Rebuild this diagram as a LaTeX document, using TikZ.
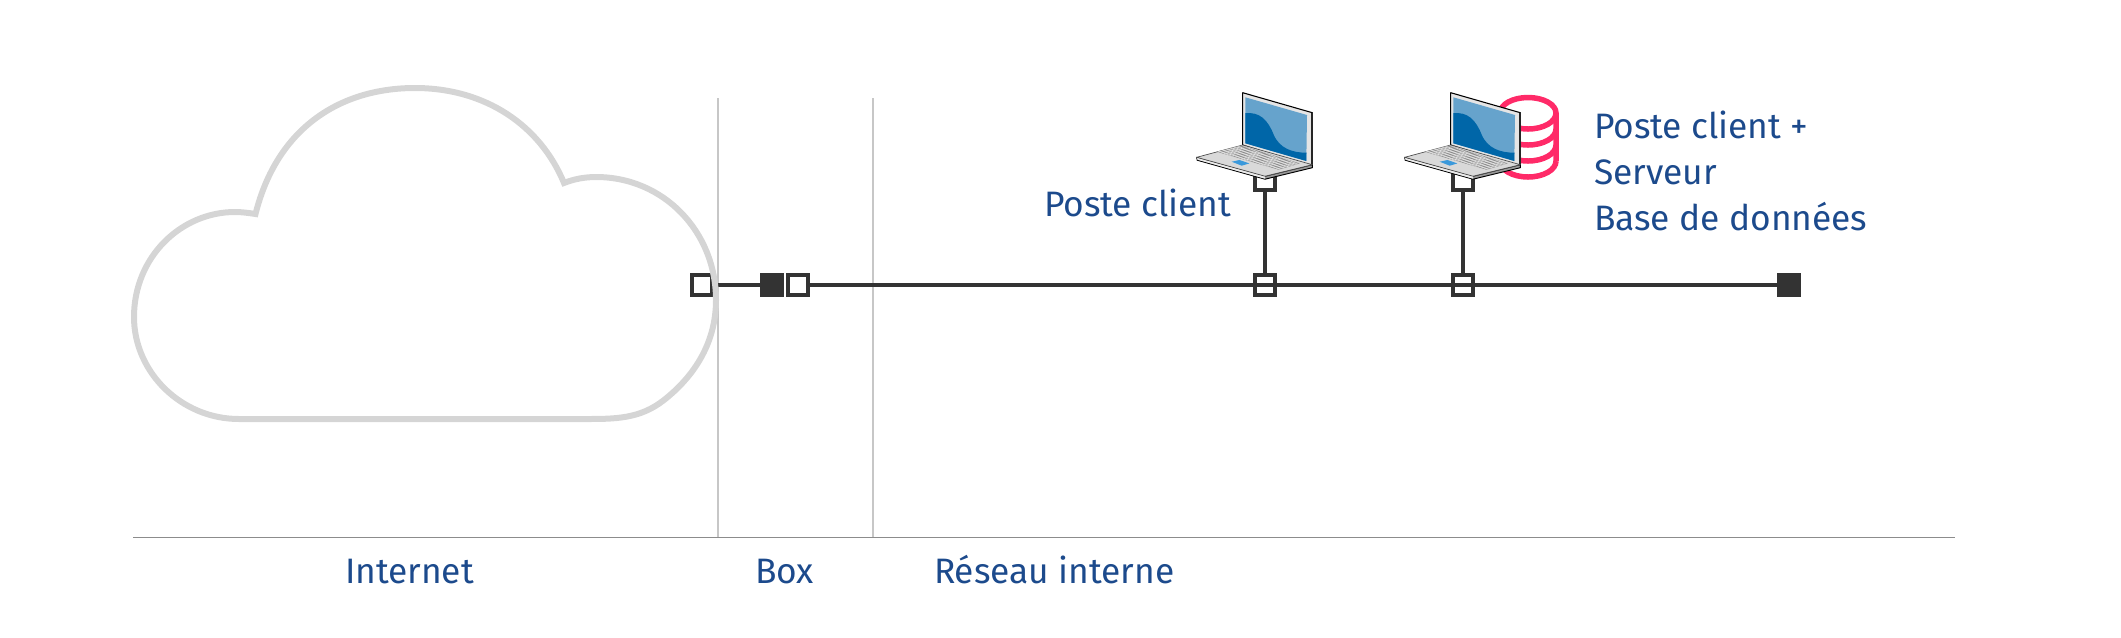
\documentclass[tikz,border=0pt]{standalone}
\usepackage{fontspec}
\setmainfont{Fira Sans}
\definecolor{ink}{HTML}{1C4A8C}
\definecolor{dark}{HTML}{333333}
\definecolor{cloudc}{HTML}{D5D5D5}
\definecolor{dbred}{HTML}{FF2A68}
\definecolor{scrlight}{HTML}{66A3CC}
\definecolor{scrdark}{HTML}{0066A8}
\tikzset{
  lbl/.style={text=ink,font=\fontsize{26.5}{34.5}\selectfont,inner sep=0pt,outer sep=0pt,align=left},
  opensq/.style={draw=dark,line width=4pt*0.75,minimum size=20pt*0.75,inner sep=0pt,outer sep=0pt},
  fillsq/.style={opensq,fill=dark},
  wire/.style={draw=dark,line width=4pt*0.75},
  zone/.style={draw=black!22,line width=1.5pt*0.75},
  dbline/.style={draw=dbred,line width=5.5pt*0.75},
  pics/laptop/.style={code={
    \draw[black,line width=.8pt,fill=black!10,line join=round] (0,0)--(69.6,20)--(69.6,74.6)--(0,52.3)--cycle;
    \draw[black!85,line width=1.5pt] (69.6,20)--(69.6,74);
    \fill[scrlight] (2.6,4.6)--(64.3,22.3)--(63.6,68.3)--(2.6,50.6)--cycle;
    \fill[scrdark] (2.6,20.5) .. controls (17,19) and (25,27) .. (31,42)
      .. controls (37,56) and (50,60) .. (63.8,60) -- (63.6,68.3)--(2.6,50.6)--cycle;
    \draw[black,line width=.7pt,fill=black!40,line join=round] (-46,64.6)--(-45.5,67.5)--(22.3,86.5)--(69.6,75)--(69.6,72)--(22.3,83.5)--cycle;
    \fill[black!8] (22.3,83.6)--(22.3,86)--(-45.3,67)--(-45.6,65)--cycle;
    \draw[black!70,line width=.5pt,fill=black!15,line join=round] (-46,64.6)--(0,52.3)--(69.6,72)--(22.3,83.5)--cycle;
    \fill[black!50] (-26,59)--(-1,53)--(57,70.7)--(36,77)--cycle;
    \begin{scope}
      \clip (-26,59)--(-1,53)--(57,70.7)--(36,77)--cycle;
      \foreach \k in {0,...,5}{\draw[black!12,line width=.55pt] (-30+\k*4.2,59+\k*-1.1)--(70+\k*4.2,88+\k*-1.1);}
      \foreach \k in {0,...,24}{\draw[black!12,line width=.45pt] (-27+\k*2.9,60+\k*0.84)--(3+\k*2.9,52+\k*0.84);}
    \end{scope}
    \fill[cyan!70!blue!80] (-11,69)--(-3.3,67.3)--(6.7,70.7)--(-1,73)--cycle;
  }}
}
\begin{document}
\begin{tikzpicture}[x=0.75pt,y=-0.75pt]
\useasboundingbox (0,0) rectangle (2121,637);
% zones
\coordinate (zt1) at (718,98); \coordinate (zb1) at (718,538);
\coordinate (zt2) at (873,98); \coordinate (zb2) at (873,538);
\coordinate (axl) at (133,537.5); \coordinate (axr) at (1955,537.5);
\draw[zone] (zt1)--(zb1);
\draw[zone] (zt2)--(zb2);
\draw[draw=black!45,line width=1.1pt*0.75] (axl)--(axr);
% network squares
\node[opensq] (inet) at (701.5,284.5) {};
\node[fillsq] (boxa) at (772,284.5) {};
\node[opensq] (boxb) at (798,284.5) {};
\node[opensq] (j1) at (1265,284.5) {};
\node[opensq] (j2) at (1463,284.5) {};
\node[fillsq] (endn) at (1789,284.5) {};
\node[opensq] (p1) at (1265,179.5) {};
\node[opensq] (p2) at (1463,179.5) {};
\draw[wire] (inet.east)--(boxa.west);
\draw[wire] (boxb.east)--(endn.west);
\draw[wire] (p1.south)--(j1.north);
\draw[wire] (p2.south)--(j2.north);
% cloud
\draw[draw=cloudc,line width=6pt*0.75,line join=miter]
  (255.5,214) .. controls (277,128) and (340,88) .. (415,88)
  .. controls (485,88) and (540,125) .. (564,183)
  .. controls (574,179) and (585,177) .. (596,177)
  .. controls (664,177) and (716,232) .. (716,300)
  .. controls (716,345) and (692,378) .. (664,400)
  .. controls (640,419) and (615,419) .. (585,419)
  -- (239,419)
  .. controls (181,419) and (134,372) .. (134,317)
  .. controls (134,257) and (181,212) .. (235,212)
  .. controls (242,212) and (249,213) .. (255.5,214) -- cycle;
% database
\draw[dbline] (1500,161) -- (1500,113) arc[start angle=180,end angle=360,x radius=28,y radius=15.5] -- (1556,161);
\foreach \yy in {113,129,145,161}{
  \draw[dbline] (1500,\yy) arc[start angle=180,end angle=0,x radius=28,y radius=16];
}
% laptops
\pic at (1242.7,92.7) {laptop};
\pic at (1450.7,92.7) {laptop};
% labels
\node[lbl,anchor=base west] (lc1) at (1044,216.5) {Poste client};
\node[lbl,anchor=west] (lc2) at (1594,171) {Poste client +\\Serveur\\Base de données};
\node[lbl,anchor=base west] (l1) at (345,583) {Internet};
\node[lbl,anchor=base west] (l2) at (755,583) {Box};
\node[lbl,anchor=base west] (l3) at (934,583) {Réseau interne};
\end{tikzpicture}
\end{document}
